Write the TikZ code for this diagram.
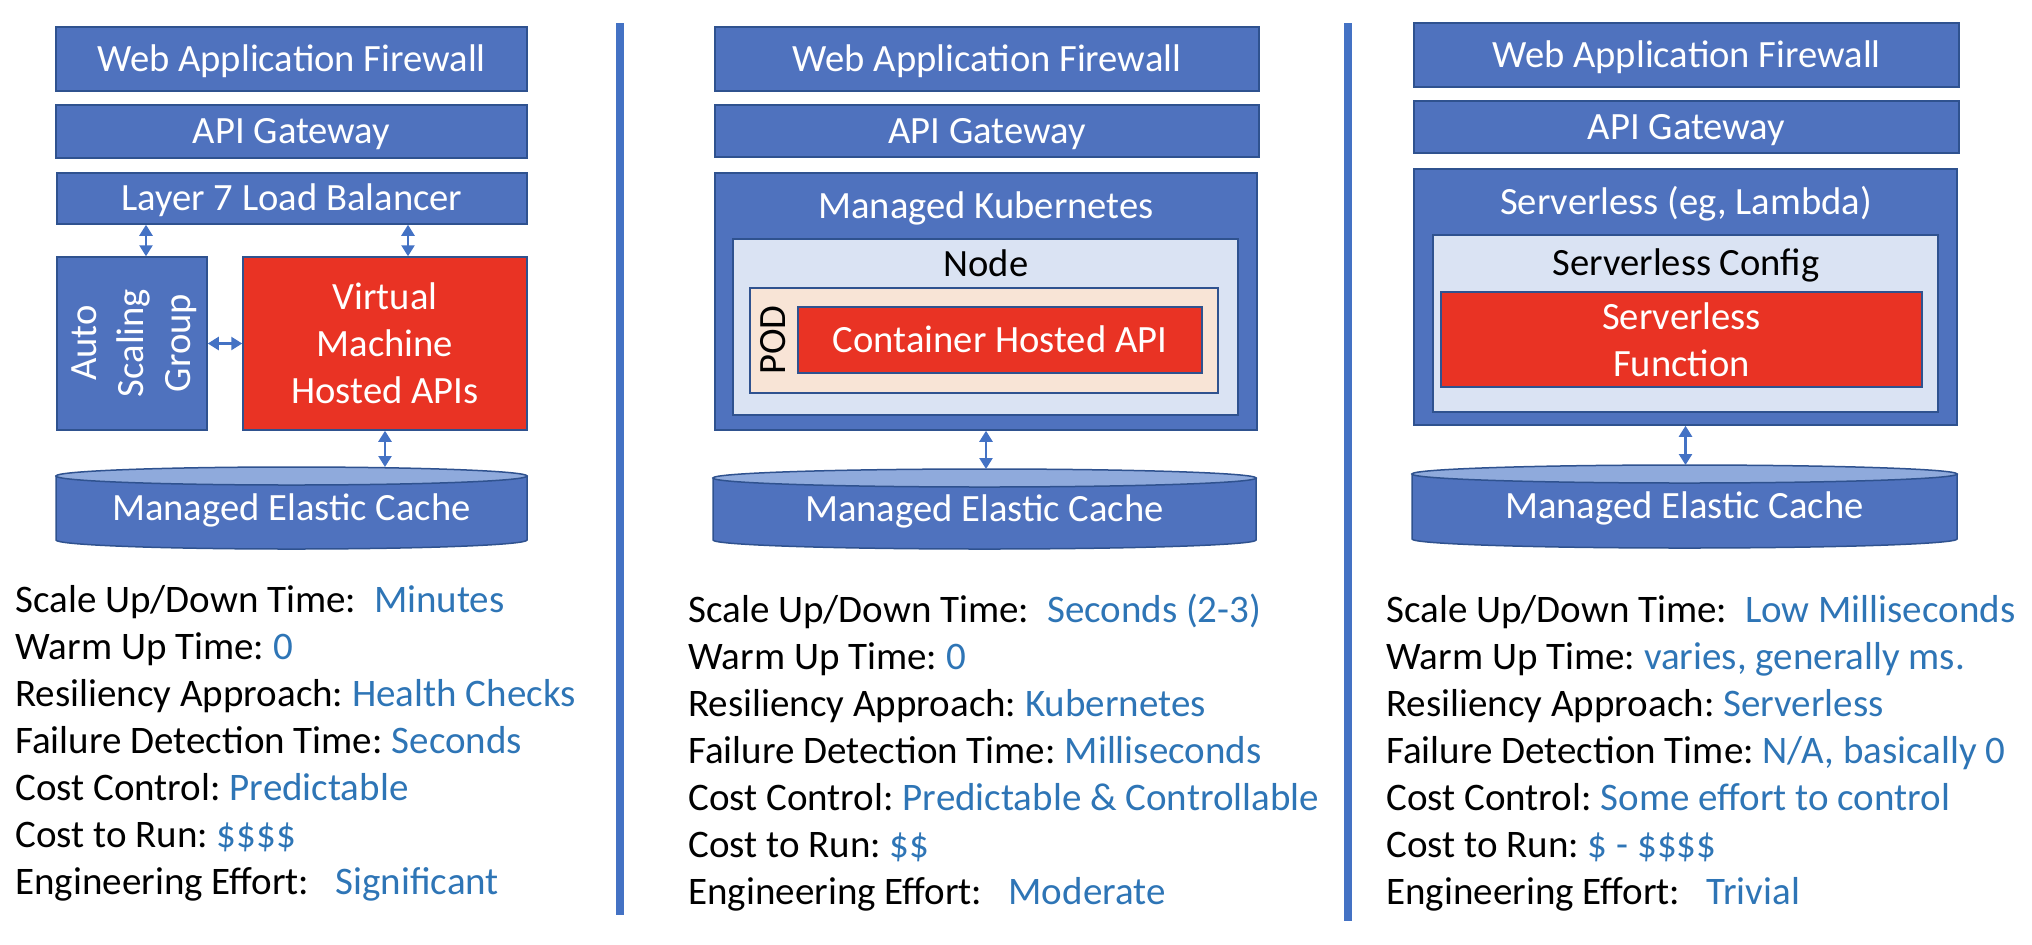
\documentclass[tikz,border=0pt]{standalone}
\usepackage{fontspec}
\setmainfont{Carlito}
\usetikzlibrary{arrows.meta,fit}

\definecolor{boxblue}{HTML}{4F72BE}
\definecolor{boxedge}{HTML}{2F528F}
\definecolor{vmred}{HTML}{E93324}
\definecolor{nodefill}{HTML}{DAE3F3}
\definecolor{podfill}{HTML}{F8E4D6}
\definecolor{captop}{HTML}{8FAADC}
\definecolor{valblue}{HTML}{2E75B6}
\definecolor{arrowblue}{HTML}{4472C4}

\tikzset{
  every node/.style={font=\fontsize{19.3pt}{23.5pt}\selectfont},
  bluebox/.style={draw=boxedge, fill=boxblue, line width=0.75pt, inner sep=0pt},
  redbox/.style={draw=boxedge, fill=vmred, line width=0.75pt, inner sep=0pt},
  nodebox/.style={draw=boxedge, fill=nodefill, line width=0.75pt, inner sep=0pt},
  podbox/.style={draw=boxedge, fill=podfill, line width=0.75pt, inner sep=0pt},
  title/.style={inner sep=0pt, text=white, align=center},
  capline/.style={text height=12.4pt, text depth=0pt},
  darktitle/.style={inner sep=0pt, text=black, capline},
  cylbody/.style={draw=boxedge, fill=boxblue, line width=0.75pt},
  cyltop/.style={draw=boxedge, fill=captop, line width=0.75pt},
  link/.style={{Triangle[width=6.5pt,length=5.5pt]}-{Triangle[width=6.5pt,length=5.5pt]}, draw=arrowblue, line width=1.2pt},
  divider/.style={draw=arrowblue, line width=4pt},
  stat/.style={anchor=base west, inner sep=0pt, font=\fontsize{19.5pt}{23.5pt}\selectfont}
}

\begin{document}
\begin{tikzpicture}[x=0.5pt,y=0.5pt]
  \useasboundingbox (0,0) rectangle (2032,-944);

  % virtual machines
  \node[bluebox, fit={(56,-27) (527,-91)}] (waf1) {};
  \node[title, capline] (waf1txt) at (waf1) {Web Application Firewall};
  \node[bluebox, fit={(56,-105) (527,-158)}] (api1) {};
  \node[title, capline] (api1txt) at (api1) {API Gateway};
  \node[bluebox, fit={(57,-173) (527,-224)}] (lb1) {};
  \node[title, capline] (lb1txt) at (lb1) {Layer 7 Load Balancer};
  \node[bluebox, fit={(57,-257) (207,-430)}] (asg1) {};
  \node[title, rotate=90] (asgtxt) at (134,-343) {Auto\\Scaling\\Group};
  \node[redbox, fit={(243,-257) (527,-430)}] (vm1) {};
  \node[title] (vmtxt) at (385,-343) {Virtual\\Machine\\Hosted APIs};

  % kubernetes
  \node[bluebox, fit={(715,-27) (1259,-91)}] (waf2) {};
  \node[title, capline] (waf2txt) at (waf2) {Web Application Firewall};
  \node[bluebox, fit={(715,-105) (1259,-157)}] (api2) {};
  \node[title, capline] (api2txt) at (api2) {API Gateway};
  \node[bluebox, fit={(715,-173) (1257,-430)}] (k8s) {};
  \node[title, capline] (k8stxt) at (986,-206) {Managed Kubernetes};
  \node[nodebox, fit={(733,-239) (1238,-415)}] (node2) {};
  \node[darktitle] (nodetxt) at (986,-264) {Node};
  \node[podbox, fit={(750,-288) (1218,-393)}] (pod) {};
  \node[darktitle, rotate=90] (podtxt) at (773,-340) {POD};
  \node[redbox, fit={(798,-307) (1202,-373)}] (ctr) {};
  \node[title, capline] (ctrtxt) at (ctr) {Container Hosted API};

  % serverless
  \node[bluebox, fit={(1414,-23) (1959,-87)}] (waf3) {};
  \node[title, capline] (waf3txt) at (waf3) {Web Application Firewall};
  \node[bluebox, fit={(1414,-101) (1959,-153)}] (api3) {};
  \node[title, capline] (api3txt) at (api3) {API Gateway};
  \node[bluebox, fit={(1414,-169) (1957,-425)}] (sls) {};
  \node[title, capline] (slstxt) at (1686,-202) {Serverless (eg, Lambda)};
  \node[nodebox, fit={(1433,-235) (1938,-412)}] (cfg) {};
  \node[darktitle] (cfgtxt) at (1686,-263) {Serverless Config};
  \node[redbox, fit={(1441,-292) (1922,-387)}] (fn) {};
  \node[title] (fntxt) at (fn) {Serverless\\Function};

  % caches
  \foreach \n/\xl/\xr/\yt/\yb in {1/56/527/476/540, 2/713/1256/478/540, 3/1412/1957/474/539}{
    \path[cylbody] (\xl,-\yt) -- (\xl,-\yb)
      arc[start angle=180, end angle=360, x radius={(\xr-\xl)/2}, y radius=9] -- (\xr,-\yt) -- cycle;
    \path[cyltop] ({(\xl+\xr)/2},-\yt) ellipse[x radius={(\xr-\xl)/2}, y radius=9];
    \node[title, capline] (cache\n) at ({(\xl+\xr)/2},{-(\yt+\yb)/2}) {Managed Elastic Cache};
    \coordinate (ctop\n) at ({(\xl+\xr)/2},{-\yt+9});
  }
  \coordinate (ctop1) at (385,-467);

  % connectors
  \coordinate (a1) at ([xshift=7pt]asg1.north);
  \coordinate (a2) at ([xshift=11.5pt]vm1.north);
  \draw[link] (a1) -- (a1 |- lb1.south);
  \draw[link] (a2) -- (a2 |- lb1.south);
  \draw[link] (asg1.east) -- (vm1.west);
  \draw[link] (vm1.south) -- (ctop1);
  \draw[link] (k8s.south) -- (k8s.south |- ctop2);
  \draw[link] (sls.south) -- (sls.south |- ctop3);

  % dividers
  \draw[divider] (620,-23) -- (620,-915);
  \draw[divider] (1348,-23) -- (1348,-921);

  % comparison text
  \foreach \lbl/\va/\vb/\vc [count=\i] in {
    {Scale Up/Down Time:~~}/{Minutes}/{Seconds (2-3)}/{Low Milliseconds},
    {Warm Up Time:~}/{0}/{0}/{varies, generally ms.},
    {Resiliency Approach:~}/{Health Checks}/{Kubernetes}/{Serverless},
    {Failure Detection Time:~}/{Seconds}/{Milliseconds}/{N/A, basically 0},
    {Cost Control:~}/{Predictable}/{Predictable \& Controllable}/{Some effort to control},
    {Cost to Run:~}/{\$\$\$\$}/{\$\$}/{\$ - \$\$\$\$},
    {Engineering Effort:~~~}/{Significant}/{Moderate}/{Trivial}}{
    \node[stat] (sa\i) at (15,{-565-47*\i}) {\lbl\textcolor{valblue}{\va}};
    \node[stat] (sb\i) at (688,{-575-47*\i}) {\lbl\textcolor{valblue}{\vb}};
    \node[stat] (sc\i) at (1386,{-575-47*\i}) {\lbl\textcolor{valblue}{\vc}};
  }
\end{tikzpicture}
\end{document}
